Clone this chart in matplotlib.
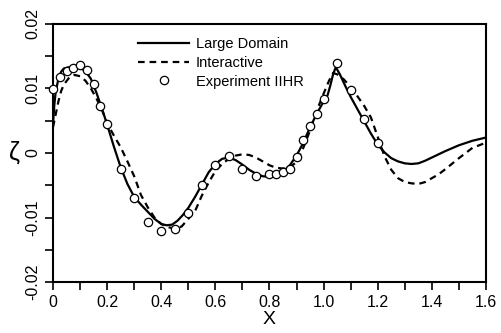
import matplotlib
matplotlib.use("Agg")
from matplotlib import pyplot as plt

# Large Domain (solid)
x_large = [0.0, 0.005, 0.01, 0.02, 0.03, 0.04, 0.06, 0.08, 0.10, 0.12, 0.14, 0.16, 0.18, 0.20,
           0.225, 0.25, 0.275, 0.30, 0.325, 0.35, 0.375, 0.40, 0.42, 0.44, 0.46, 0.48, 0.50,
           0.525, 0.55, 0.575, 0.60, 0.625, 0.65, 0.675, 0.70, 0.725, 0.75, 0.775, 0.80, 0.825,
           0.85, 0.875, 0.90, 0.925, 0.95, 0.975, 1.0, 1.015, 1.025, 1.035, 1.045, 1.06, 1.08,
           1.10, 1.125, 1.15, 1.175, 1.20, 1.225, 1.25, 1.275, 1.30, 1.325, 1.35, 1.375, 1.40,
           1.45, 1.50, 1.55, 1.60]
y_large = [0.0045, 0.0075, 0.0095, 0.0115, 0.0126, 0.0131, 0.0133, 0.0133, 0.0132, 0.0127,
           0.0115, 0.0094, 0.0070, 0.0044, 0.0010, -0.0022, -0.0048, -0.0068, -0.0080, -0.0091,
           -0.0102, -0.0110, -0.0112, -0.0111, -0.0105, -0.0096, -0.0085, -0.0068, -0.0049,
           -0.0030, -0.0017, -0.0009, -0.0007, -0.0011, -0.0018, -0.0026, -0.0032, -0.0036,
           -0.0037, -0.0035, -0.0029, -0.0019, -0.0004, 0.0016, 0.0040, 0.0061, 0.0080, 0.0090,
           0.0105, 0.0122, 0.0133, 0.0122, 0.0104, 0.0087, 0.0068, 0.0049, 0.0030, 0.0013,
           0.0001, -0.0008, -0.0013, -0.0016, -0.0017, -0.0016, -0.0012, -0.0007, 0.0003,
           0.0012, 0.0019, 0.0024]

# Interactive (dashed)
x_inter = [0.0, 0.01, 0.02, 0.03, 0.04, 0.06, 0.08, 0.10, 0.12, 0.14, 0.16, 0.18, 0.20, 0.225,
           0.25, 0.275, 0.30, 0.325, 0.35, 0.375, 0.40, 0.425, 0.45, 0.475, 0.50, 0.525, 0.55,
           0.575, 0.60, 0.625, 0.65, 0.675, 0.70, 0.725, 0.75, 0.775, 0.80, 0.825, 0.85, 0.875,
           0.90, 0.925, 0.95, 0.975, 1.0, 1.02, 1.035, 1.05, 1.075, 1.10, 1.125, 1.15, 1.175,
           1.20, 1.225, 1.25, 1.275, 1.30, 1.325, 1.35, 1.375, 1.40, 1.425, 1.45, 1.50, 1.55,
           1.60]
y_inter = [0.0040, 0.0060, 0.0080, 0.0096, 0.0106, 0.0117, 0.0121, 0.0119, 0.0112, 0.0100,
           0.0085, 0.0068, 0.0046, 0.0027, 0.0009, -0.0013, -0.0036, -0.0065, -0.0084, -0.0100,
           -0.0110, -0.0115, -0.0117, -0.0114, -0.0102, -0.0090, -0.0066, -0.0046, -0.0028,
           -0.0017, -0.0009, -0.0004, -0.0002, -0.0003, -0.0007, -0.0013, -0.0019, -0.0023,
           -0.0024, -0.0022, -0.0014, 0.0008, 0.0035, 0.0066, 0.0092, 0.0112, 0.0124, 0.0122,
           0.0114, 0.0102, 0.0088, 0.0073, 0.0055, 0.0025, -0.0005, -0.0026, -0.0039, -0.0045,
           -0.0047, -0.0048, -0.0045, -0.0039, -0.0033, -0.0025, -0.0008, 0.0008, 0.0016]

# Experiment IIHR (circles)
x_exp = [0.0, 0.025, 0.05, 0.075, 0.10, 0.125, 0.15, 0.175, 0.20, 0.25, 0.30, 0.35, 0.40, 0.45,
         0.50, 0.55, 0.60, 0.65, 0.70, 0.75, 0.80, 0.825, 0.85, 0.875, 0.90, 0.925, 0.95, 0.975,
         1.0, 1.05, 1.10, 1.15, 1.20]
y_exp = [0.0099, 0.0118, 0.0127, 0.0132, 0.0136, 0.0128, 0.0107, 0.0073, 0.0045, -0.0025,
         -0.0069, -0.0107, -0.0121, -0.0118, -0.0093, -0.0049, -0.0019, -0.0004, -0.0025,
         -0.0035, -0.0033, -0.0033, -0.0030, -0.0025, -0.0006, 0.0020, 0.0042, 0.0060, 0.0083,
         0.0139, 0.0098, 0.0053, 0.0016]

x_ticks = [0, 0.2, 0.4, 0.6, 0.8, 1.0, 1.2, 1.4, 1.6]
x_ticklabels = ["0", "0.2", "0.4", "0.6", "0.8", "1.0", "1.2", "1.4", "1.6"]
y_ticks = [-0.02, -0.01, 0, 0.01, 0.02]
y_ticklabels = ["-0.02", "-0.01", "0", "0.01", "0.02"]

plt.rcParams['font.family'] = ['Liberation Sans', 'DejaVu Sans']

fig = plt.figure(figsize=(5.01, 3.33), dpi=100)
ax = fig.add_axes([0.1058, 0.153, 0.8642, 0.775])

ax.plot(x_large, y_large, color="black", lw=1.6, label="Large Domain")
ax.plot(x_inter, y_inter, color="black", lw=1.6, ls=(0, (3, 2.2)), label="Interactive")
ax.plot(x_exp, y_exp, ls="none", marker="o", ms=6, mfc="white", mec="black", mew=0.9,
        label="Experiment IIHR", clip_on=False, zorder=3)

ax.set_xlim(0, 1.6)
ax.set_ylim(-0.02, 0.02)
ax.set_xticks(x_ticks)
ax.set_xticklabels(x_ticklabels)
ax.set_xticks([0.1, 0.3, 0.5, 0.7, 0.9, 1.1, 1.3, 1.5], minor=True)
ax.set_yticks(y_ticks)
ax.set_yticklabels(y_ticklabels, rotation=90, va="center")
ax.set_yticks([-0.015, -0.005, 0.005, 0.015], minor=True)
ax.tick_params(which="both", direction="out", length=6, width=1.2, labelsize=11.5, pad=3)

for s in ax.spines.values():
    s.set_linewidth(1.5)

ax.set_xlabel("X", fontsize=14, labelpad=1)
ax.set_ylabel("ζ", fontsize=18, rotation=0, labelpad=8, va="center")

ax.legend(loc="upper left", bbox_to_anchor=(0.197, 0.95), frameon=False, fontsize=10.5,
          handlelength=3.5, handletextpad=0.45, labelspacing=0.33, borderpad=0,
          borderaxespad=0)

fig.savefig("out.png", dpi=100)
